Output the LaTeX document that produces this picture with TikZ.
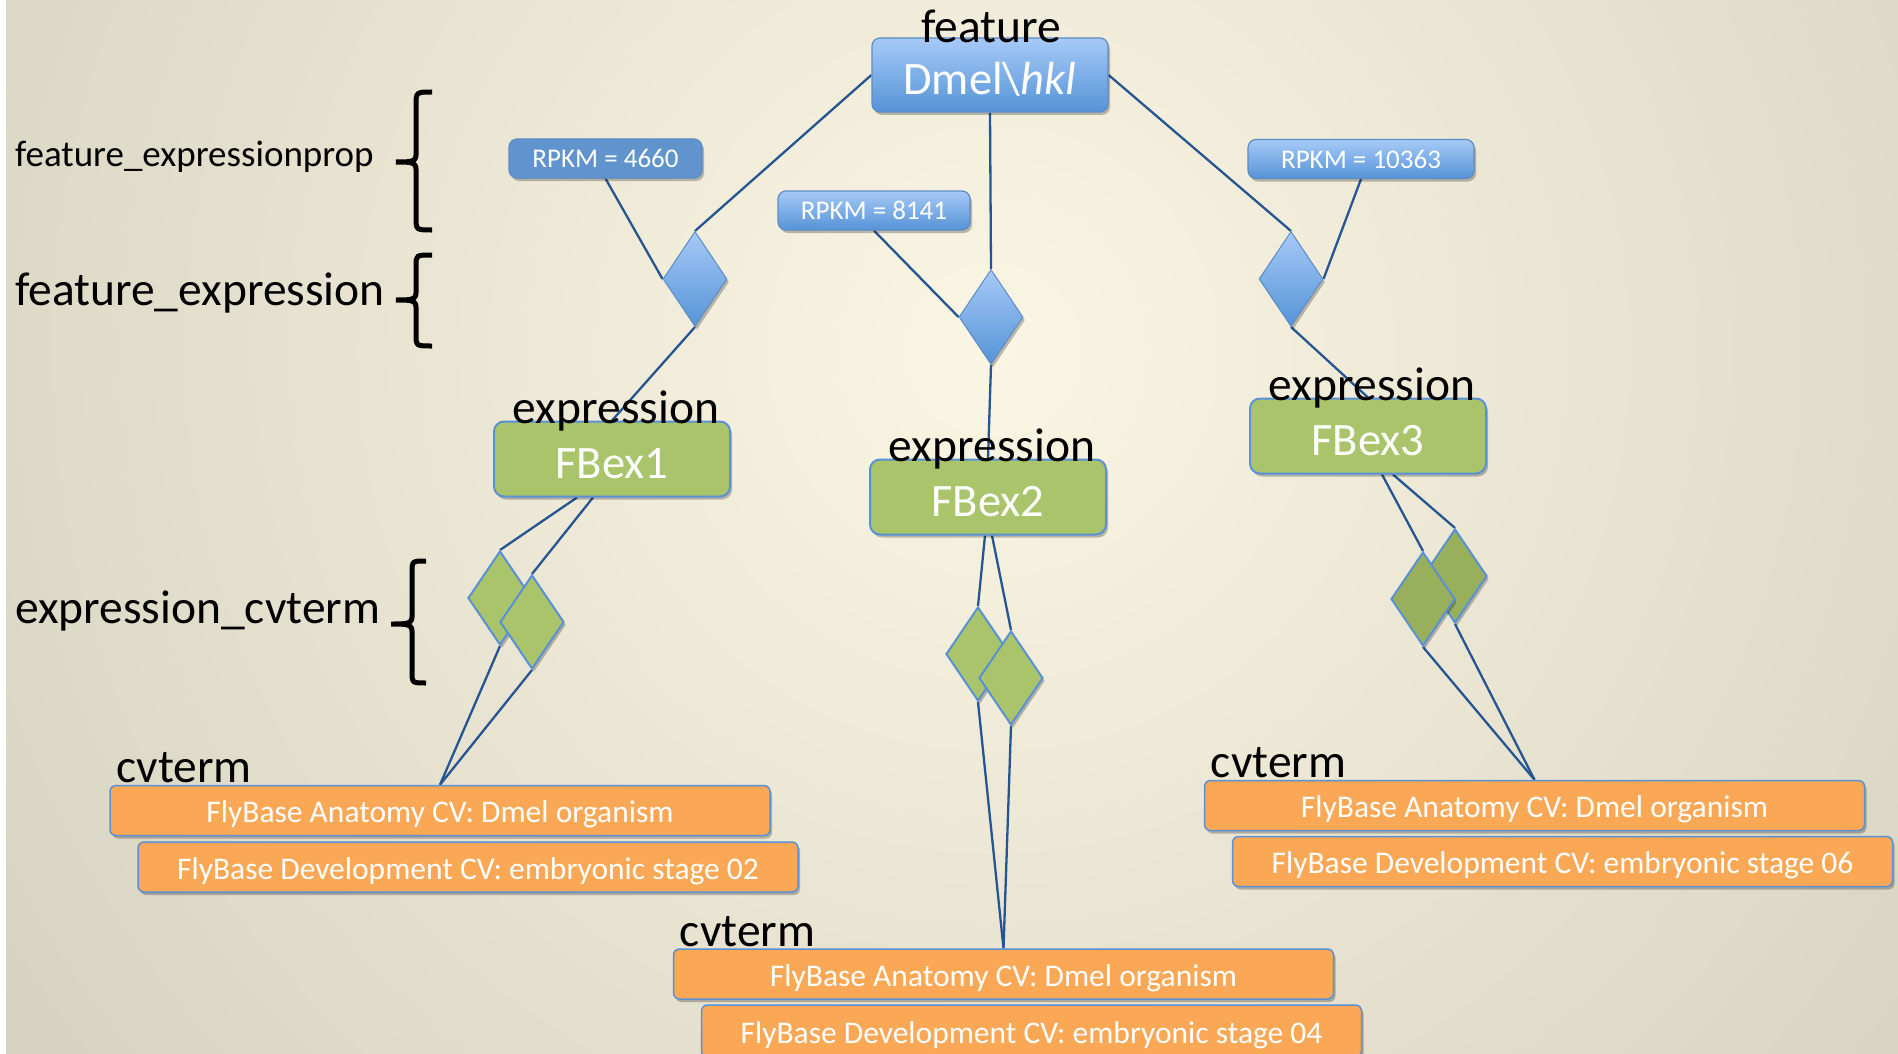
\documentclass[tikz,border=0pt]{standalone}
\usepackage{fontspec}
\setmainfont{Carlito}
\usetikzlibrary{shapes.geometric,shadows,calc}
\definecolor{bgc0}{RGB}{250,246,228}
\definecolor{bgc1}{RGB}{240,235,216}
\definecolor{bgc2}{RGB}{222,218,200}
\definecolor{bgc3}{RGB}{201,198,183}
\definecolor{bgc4}{RGB}{165,162,148}
\definecolor{bluetop}{RGB}{166,202,247}
\definecolor{bluebot}{RGB}{86,147,214}
\definecolor{blueflat}{RGB}{97,148,204}
\definecolor{blueborder}{RGB}{92,140,200}
\definecolor{greenfill}{RGB}{170,196,107}
\definecolor{greendark}{RGB}{152,176,92}
\definecolor{edgeblue}{RGB}{90,145,212}
\definecolor{orangefill}{RGB}{250,168,86}
\definecolor{connblue}{RGB}{38,86,146}
\pgfdeclareradialshading{bgglow}{\pgfpoint{0bp}{0bp}}{color(0bp)=(bgc0); color(8bp)=(bgc1); color(20bp)=(bgc2); color(34bp)=(bgc3); color(50bp)=(bgc4)}
\pgfdeclarelayer{backlayer}
\pgfdeclarelayer{connlayer}
\pgfsetlayers{backlayer,connlayer,main}
\newcommand\fsBig{\fontsize{47.5}{54}\selectfont}
\newcommand\fsBox{\fontsize{46.5}{52}\selectfont}
\newcommand\fsProp{\fontsize{37}{42}\selectfont}
\newcommand\fsRpkm{\fontsize{27}{32}\selectfont}
\newcommand\fsCv{\fontsize{31.5}{36}\selectfont}
\tikzset{
  shad/.style={drop shadow={shadow xshift=2pt, shadow yshift=-3pt, opacity=0.25, fill=black}},
  bluebox/.style={rounded corners=8, draw=blueborder, line width=1.2, top color=bluetop, bottom color=bluebot, text=white, inner sep=0, shad},
  rpkmbox/.style={bluebox, minimum height=39, font=\fsRpkm},
  greenbox/.style={rounded corners=10, draw=edgeblue, line width=2, fill=greenfill, text=white, inner sep=0, minimum width=236, minimum height=75, font=\fsBox, text height=39pt, text depth=0pt, shad},
  orangebox/.style={rounded corners=6, draw=edgeblue, line width=1.5, fill=orangefill, text=white, inner sep=0, minimum width=660, minimum height=50, font=\fsCv, text height=24pt, text depth=0pt, shad},
  bdiamond/.style={diamond, inner sep=0, minimum width=64, minimum height=95, draw=blueborder, line width=1, top color=bluetop, bottom color=bluebot, shad},
  gdiamond/.style={diamond, inner sep=0, minimum width=64, minimum height=94, draw=edgeblue, line width=2, fill=greenfill, shad},
  gdiamondd/.style={gdiamond, fill=greendark},
  conn/.style={draw=connblue, line width=2.3},
  lbl/.style={text=black, inner sep=0, font=\fsBig},
  bracepath/.style={draw=black, line width=5},
}
\begin{document}
\begin{tikzpicture}[x=1pt, y=-1pt]
\useasboundingbox (0,0) rectangle (1898,1054);
\begin{pgfonlayer}{backlayer}
\begin{scope}
\clip (0,0) rectangle (1898,1054);
\shade[shading=bgglow] (-207,-850) rectangle (2193,1550);
\fill[white] (0,0) rectangle (6,1054);
\end{scope}
\end{pgfonlayer}

% nodes
\node[bluebox, minimum width=236, minimum height=74, font=\fsBox, text height=39pt, text depth=0pt] (top) at (990,75) {Dmel\textbackslash\textit{hkl}};
\node[rpkmbox, minimum width=193, top color=blueflat, bottom color=blueflat] (r1) at (605.5,158.5) {RPKM = 4660};
\node[rpkmbox, minimum width=192] (r2) at (874,210.5) {RPKM = 8141};
\node[rpkmbox, minimum width=226] (r3) at (1361,159) {RPKM = 10363};

\node[greenbox] (fb1) at (612,459) {FBex1};
\node[greenbox] (fb2) at (988,497) {FBex2};
\node[greenbox] (fb3) at (1368,436) {FBex3};

\node[orangebox] (c1a) at (440,810.5) {FlyBase Anatomy CV: Dmel organism};
\node[orangebox] (c1b) at (468,867) {FlyBase Development CV: embryonic stage 02};
\node[orangebox] (c2a) at (1003.5,974) {FlyBase Anatomy CV: Dmel organism};
\node[orangebox, minimum height=52] (c2b) at (1031.5,1031) {FlyBase Development CV: embryonic stage 04};
\node[orangebox] (c3a) at (1534.5,805.5) {FlyBase Anatomy CV: Dmel organism};
\node[orangebox] (c3b) at (1562.5,861.5) {FlyBase Development CV: embryonic stage 06};

% diamonds
\node[bdiamond] (bd1) at (695,279) {};
\node[bdiamond] (bd2) at (991,317) {};
\node[bdiamond] (bd3) at (1291,279) {};

\node[gdiamond] (gA) at (500,598) {};
\node[gdiamond] (gB) at (532,622) {};
\node[gdiamond] (gC) at (978,654) {};
\node[gdiamond] (gD) at (1011,678) {};
\node[gdiamondd] (gF) at (1455,576) {};
\node[gdiamondd] (gE) at (1423,599) {};

% connectors
\begin{pgfonlayer}{connlayer}
\draw[conn] (top.west) -- (bd1.north);
\draw[conn] (top.south) -- (bd2.north);
\draw[conn] (top.east) -- (bd3.north);
\draw[conn] (r1.south) -- (bd1.west);
\draw[conn] (r2.south) -- (bd2.west);
\draw[conn] (r3.south) -- (bd3.east);
\draw[conn] (bd1.south) -- (fb1.north);
\draw[conn] (bd2.south) -- (fb2.north);
\draw[conn] (bd3.south) -- (fb3.north);
\draw[conn] ($(fb1.south)+(-35,0)$) -- (gA.north);
\draw[conn] ($(fb1.south)+(-19,0)$) -- (gB.north);
\draw[conn] (gA.south) -- (c1a.north);
\draw[conn] (gB.south) -- (c1a.north);
\draw[conn] ($(fb2.south)+(-3,0)$) -- (gC.north);
\draw[conn] ($(fb2.south)+(4,0)$) -- (gD.north);
\draw[conn] (gC.south) -- (c2a.north);
\draw[conn] (gD.south) -- (c2a.north);
\draw[conn] ($(fb3.south)+(14,0)$) -- (gE.north);
\draw[conn] ($(fb3.south)+(25,0)$) -- (gF.north);
\draw[conn] (gE.south) -- (c3a.north);
\draw[conn] (gF.south) -- (c3a.north);
\end{pgfonlayer}

% labels
\node[lbl, anchor=base] (ltop) at ($(top.north)+(1,5)$) {feature};
\node[lbl, anchor=base] (lfb1) at ($(fb1.north)+(4,3)$) {expression};
\node[lbl, anchor=base] (lfb2) at ($(fb2.north)+(4,3)$) {expression};
\node[lbl, anchor=base] (lfb3) at ($(fb3.north)+(4,3)$) {expression};
\node[lbl, anchor=base west] (lc1) at ($(c1a.north west)+(7,-2)$) {cvterm};
\node[lbl, anchor=base west] (lc2) at ($(c2a.north west)+(7,-2)$) {cvterm};
\node[lbl, anchor=base west] (lc3) at ($(c3a.north west)+(7,-2)$) {cvterm};

\node[lbl, anchor=base west, font=\fsProp] (tprop) at (15,166) {feature\_expressionprop};
\node[lbl, anchor=base west] (tfe) at (15,305) {feature\_expression};
\node[lbl, anchor=base west] (tec) at (15,623) {expression\_cvterm};

% braces
\draw[bracepath] (432,92) .. controls (416,92) .. (416,106) -- (416,155)
  .. controls (416,162) and (410,162) .. (396,162)
  .. controls (410,162) and (416,162) .. (416,169) -- (416,217)
  .. controls (416,230) .. (432,230);
\draw[bracepath] (432,255) .. controls (416,255) .. (416,266) -- (416,293)
  .. controls (416,300) and (410,300) .. (396,300)
  .. controls (410,300) and (416,300) .. (416,307) -- (416,334)
  .. controls (416,346) .. (432,346);
\draw[bracepath] (426,561) .. controls (412,561) .. (412,573) -- (412,617)
  .. controls (412,624) and (406,624) .. (391,624)
  .. controls (406,624) and (412,624) .. (412,631) -- (412,671)
  .. controls (412,683) .. (426,683);
\end{tikzpicture}
\end{document}
